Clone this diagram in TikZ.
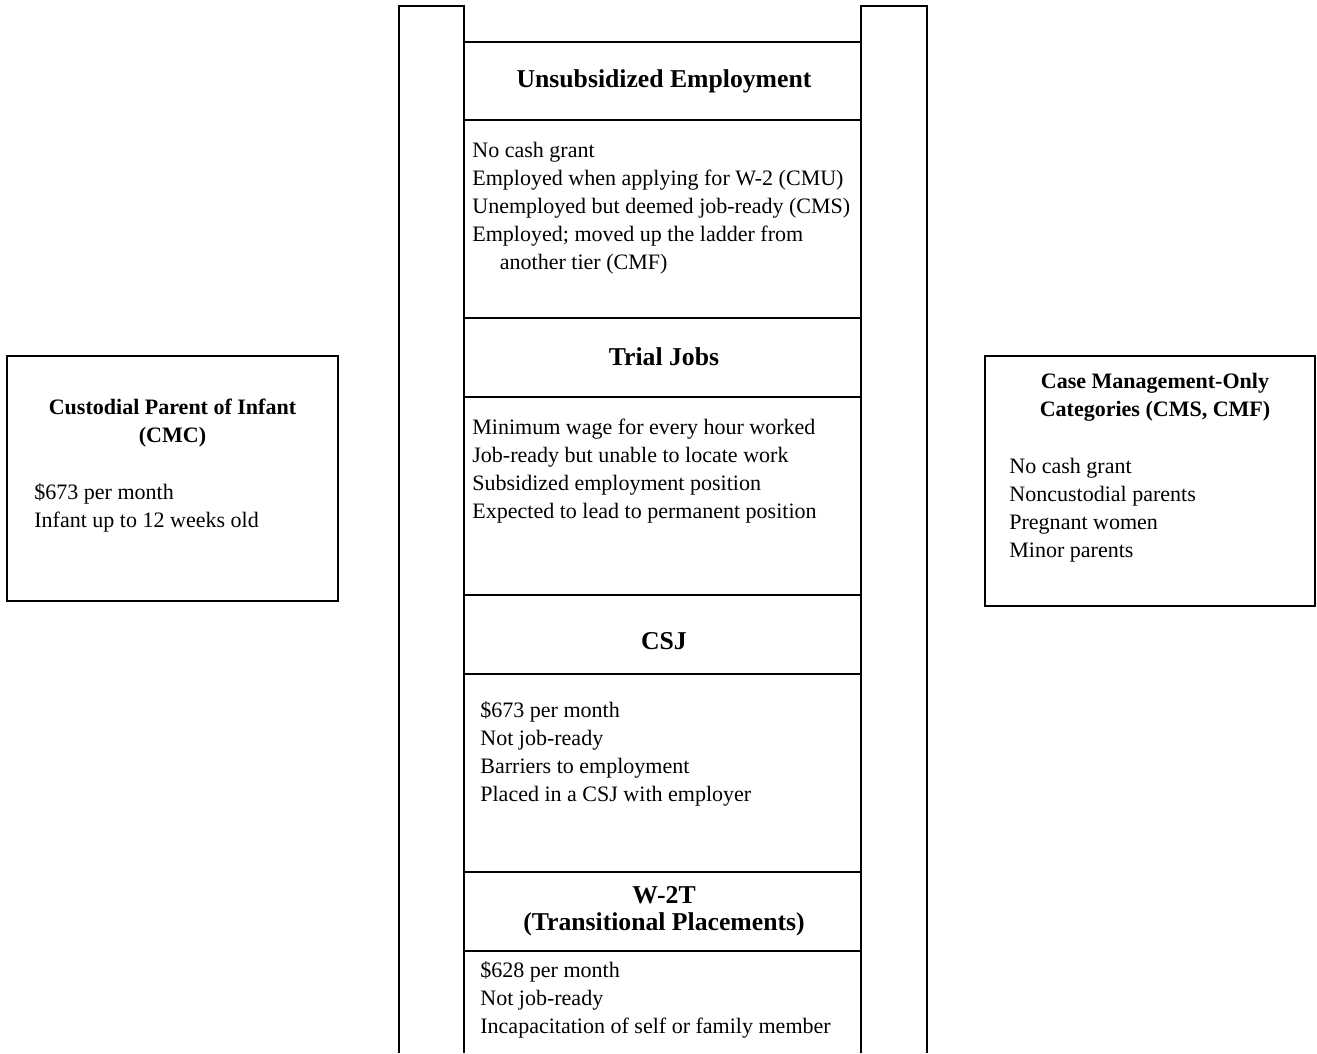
\documentclass[tikz,border=0pt]{standalone}
\usepackage{fontspec}
\setmainfont{Liberation Serif}
\tikzset{rail/.style = {draw, line width=0.8pt}}
\tikzset{tier/.style = {font=\bfseries\fontsize{14}{14.8}\selectfont, align=center, inner sep=0}}
\tikzset{boxhead/.style = {font=\bfseries\fontsize{12}{15.2}\selectfont, align=center, inner sep=0}}
\tikzset{facts/.style = {font=\fontsize{12}{15.2}\selectfont, align=left, anchor=base west, inner sep=0}}

\begin{document}
\begin{tikzpicture}[x=0.545pt, y=-0.545pt]
  \useasboundingbox (0,0) rectangle (1317,1053);
  % ladder
  \draw[rail] (399,1053) -- (399,6) -- (464,6) -- (464,1053);
  \draw[rail] (861,1053) -- (861,6) -- (927,6) -- (927,1053);
  \foreach \y in {42,120,318,397,595,674,872,951}
    \draw[rail] (464,\y) -- (861,\y);

  % facts nodes sit on the baseline of their last line
  \node[tier] (unsub) at (664,81) {Unsubsidized Employment};
  \node[facts] (unsubtxt) at (472,269) {No cash grant\\Employed when applying for W-2 (CMU)\\
    Unemployed but deemed job-ready (CMS)\\Employed; moved up the ladder from\\
    \hspace*{15pt}another tier (CMF)};

  \node[tier] (trial) at (664,357) {Trial Jobs};
  \node[facts] (trialtxt) at (472,518) {Minimum wage for every hour worked\\Job-ready but unable to locate work\\
    Subsidized employment position\\Expected to lead to permanent position};

  \node[tier] (csj) at (664,641) {CSJ};
  \node[facts] (csjtxt) at (480,801) {\$673 per month\\Not job-ready\\Barriers to employment\\
    Placed in a CSJ with employer};

  \node[tier] (w2t) at (664,911) {W-2T\\(Transitional Placements)};
  \node[facts] (w2ttxt) at (480,1033) {\$628 per month\\Not job-ready\\Incapacitation of self or family member};

  % side boxes
  \draw[rail] (7,356) rectangle (338,601);
  \node[boxhead] (cmc) at (172.5,423) {Custodial Parent of Infant\\(CMC)};
  \node[facts] (cmctxt) at (34,527) {\$673 per month\\Infant up to 12 weeks old};

  \draw[rail] (985,356) rectangle (1315,606);
  \node[boxhead] (cmo) at (1155,397) {Case Management-Only\\Categories (CMS, CMF)};
  \node[facts] (cmotxt) at (1009,557) {No cash grant\\Noncustodial parents\\Pregnant women\\Minor parents};
\end{tikzpicture}
\end{document}
